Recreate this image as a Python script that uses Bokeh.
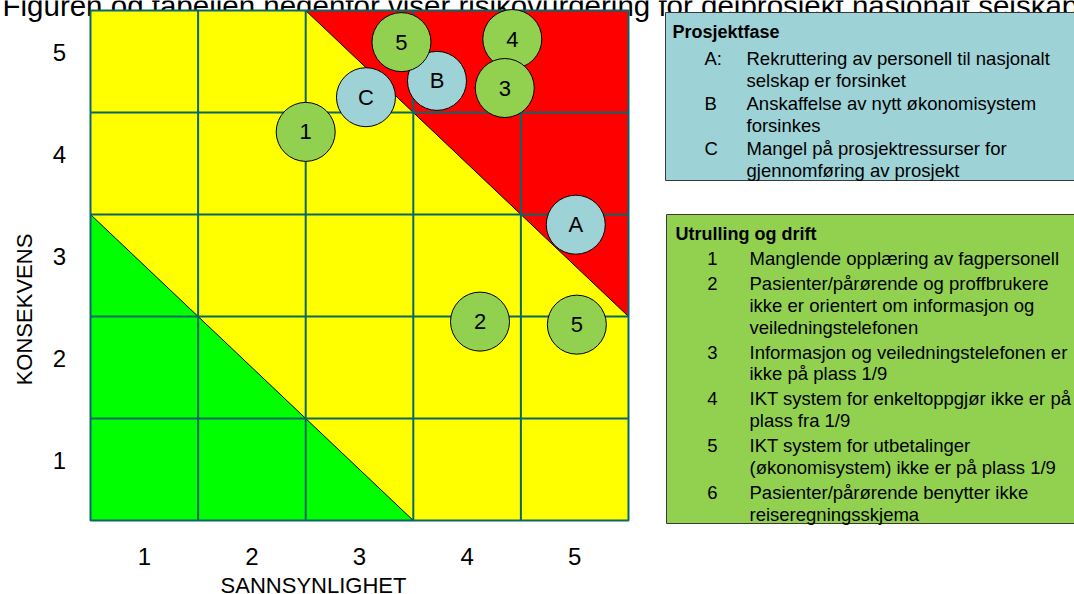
import math
from bokeh.plotting import figure
from bokeh.models import Range1d
from bokeh.core.properties import value
from bokeh.embed import file_html
from bokeh.resources import INLINE

# ---------------- data ----------------
title_text = "Figuren og tabellen nedenfor viser risikovurdering for delprosjekt nasjonalt selskap"
x_title = "SANNSYNLIGHET"
y_title = "KONSEKVENS"
prob_levels = [1, 2, 3, 4, 5]
cons_levels = [1, 2, 3, 4, 5]
prob_labels = ["1", "2", "3", "4", "5"]
cons_labels = ["1", "2", "3", "4", "5"]
low_sum = 4    # below the diagonal prob + cons = 4 -> green
high_sum = 8   # above the diagonal prob + cons = 8 -> red

phase_ids = ["A", "B", "C"]
phase_prob = [5.01, 3.72, 3.06]
phase_cons = [3.40, 4.81, 4.65]

drift_ids = ["1", "2", "4", "3", "5", "5"]
drift_prob = [2.50, 4.12, 4.42, 4.35, 3.39, 5.02]
drift_cons = [4.31, 2.45, 5.22, 4.74, 5.19, 2.42]

phase_header = "Prosjektfase"
phase_keys = ["A:", "B", "C"]
phase_texts = [
    ["Rekruttering av personell til nasjonalt", "selskap er forsinket"],
    ["Anskaffelse av nytt økonomisystem", "forsinkes"],
    ["Mangel på prosjektressurser for", "gjennomføring av prosjekt"],
]

drift_header = "Utrulling og drift"
drift_keys = ["1", "2", "3", "4", "5", "6"]
drift_texts = [
    ["Manglende opplæring av fagpersonell"],
    ["Pasienter/pårørende og proffbrukere", "ikke er orientert om informasjon og", "veiledningstelefonen"],
    ["Informasjon og veiledningstelefonen er", "ikke på plass 1/9"],
    ["IKT system for enkeltoppgjør ikke er på", "plass fra 1/9"],
    ["IKT system for utbetalinger", "(økonomisystem) ikke er på plass 1/9"],
    ["Pasienter/pårørende benytter ikke", "reiseregningsskjema"],
]

# ---------------- layout (page pixels) ----------------
W, H = 1074, 594
MAT_L, MAT_R, MAT_T, MAT_B = 90, 628, 10, 520

lo = min(prob_levels) - 0.5
hi = max(prob_levels) + 0.5
ylo = min(cons_levels) - 0.5
yhi = max(cons_levels) + 0.5
ux = (MAT_R - MAT_L) / (hi - lo)
uy = (MAT_B - MAT_T) / (yhi - ylo)


def dx(px):
    return lo + (px - MAT_L) / ux


def dy(py):
    return yhi - (py - MAT_T) / uy


FONT = "Liberation Sans"
TEAL = "#0B6666"
YELLOW = "#FFFF00"
RED = "#FF0000"
GREEN = "#00FF00"
BLUE_FILL = "#9DD2D7"
GREEN_FILL = "#92D050"

p = figure(width=W, height=H,
           x_range=Range1d(dx(0), dx(W)),
           y_range=Range1d(dy(H), dy(0)),
           output_backend="svg", toolbar_location=None,
           x_axis_location=None, y_axis_location=None,
           min_border=0)
p.outline_line_color = None
p.background_fill_color = "white"
p.border_fill_color = "white"
p.grid.visible = False


def txt(x, y, t, size, align="left", baseline="alphabetic", style="normal", angle=0.0):
    p.text(x, y, text=t, text_font=value(FONT), text_font_size=size,
           text_font_style=style, text_align=align, text_baseline=baseline,
           angle=angle, text_color="black")


# title (cut off at the top of the page)
txt([dx(2)], [dy(5)], [title_text], "29.5px")

# risk matrix background
p.quad(left=[lo], right=[hi], bottom=[ylo], top=[yhi], fill_color=YELLOW, line_color=None)
green_x = [lo, lo, low_sum - ylo]
green_y = [low_sum - lo, ylo, ylo]
red_x = [high_sum - yhi, hi, hi]
red_y = [yhi, yhi, high_sum - hi]
p.patch(green_x, green_y, fill_color=GREEN, line_color=None)
p.patch(red_x, red_y, fill_color=RED, line_color=None)
p.line([green_x[0], green_x[2]], [green_y[0], green_y[2]], line_color="black", line_width=1)
p.line([red_x[0], red_x[2]], [red_y[0], red_y[2]], line_color="black", line_width=1)

# cell boundaries
bx = [v + 0.5 for v in prob_levels[:-1]]
by = [v + 0.5 for v in cons_levels[:-1]]
p.segment(x0=bx, x1=bx, y0=[ylo] * len(bx), y1=[yhi] * len(bx), line_color=TEAL, line_width=2)
p.segment(x0=[lo] * len(by), x1=[hi] * len(by), y0=by, y1=by, line_color=TEAL, line_width=2)
p.quad(left=[lo], right=[hi], bottom=[ylo], top=[yhi], fill_color=None, line_color=TEAL, line_width=2)

# tick labels and axis titles
txt(prob_levels, [dy(556)] * len(prob_levels), prob_labels, "24px", "center", "middle")
txt([dx(59)] * len(cons_levels), [c + 9 / uy for c in cons_levels], cons_labels, "24px", "center", "middle")
txt([dx(313)], [dy(585)], [x_title], "22px", "center", "middle")
txt([dx(24)], [dy(309)], [y_title], "22px", "center", "middle", angle=math.pi / 2)

# risks
p.scatter(phase_prob, phase_cons, marker="circle", size=59, fill_color=BLUE_FILL,
          line_color="black", line_width=1)
txt(phase_prob, phase_cons, phase_ids, "22px", "center", "middle")
p.scatter(drift_prob, drift_cons, marker="circle", size=59, fill_color=GREEN_FILL,
          line_color="black", line_width=1)
txt(drift_prob, drift_cons, drift_ids, "22px", "center", "middle")


# legend boxes
def legend_box(left, top, bottom, fill, header, header_x, header_base,
               keys, texts, key_x, key_align, text_x, first_base, line_h, gap):
    p.quad(left=[dx(left)], right=[dx(W + 10)], top=[dy(top)], bottom=[dy(bottom)],
           fill_color=fill, line_color="#3A3A3A", line_width=1)
    txt([dx(header_x)], [dy(header_base)], [header], "18px", style="bold")
    kx, ky, kt, tx, ty, tt = [], [], [], [], [], []
    base = first_base
    for k, lines in zip(keys, texts):
        kx.append(dx(key_x)); ky.append(dy(base)); kt.append(k)
        for ln in lines:
            tx.append(dx(text_x)); ty.append(dy(base)); tt.append(ln)
            base += line_h
        base += gap
    txt(kx, ky, kt, "18.5px", key_align)
    txt(tx, ty, tt, "18.5px")


legend_box(665, 12, 180, BLUE_FILL, phase_header, 672, 31,
           phase_keys, phase_texts, 704, "left", 746, 58, 22.4, 0)
legend_box(666, 214, 523, GREEN_FILL, drift_header, 675, 233,
           drift_keys, drift_texts, 712, "center", 749, 258, 21.8, 3.2)

open("out.html", "w").write(file_html(p, INLINE))
